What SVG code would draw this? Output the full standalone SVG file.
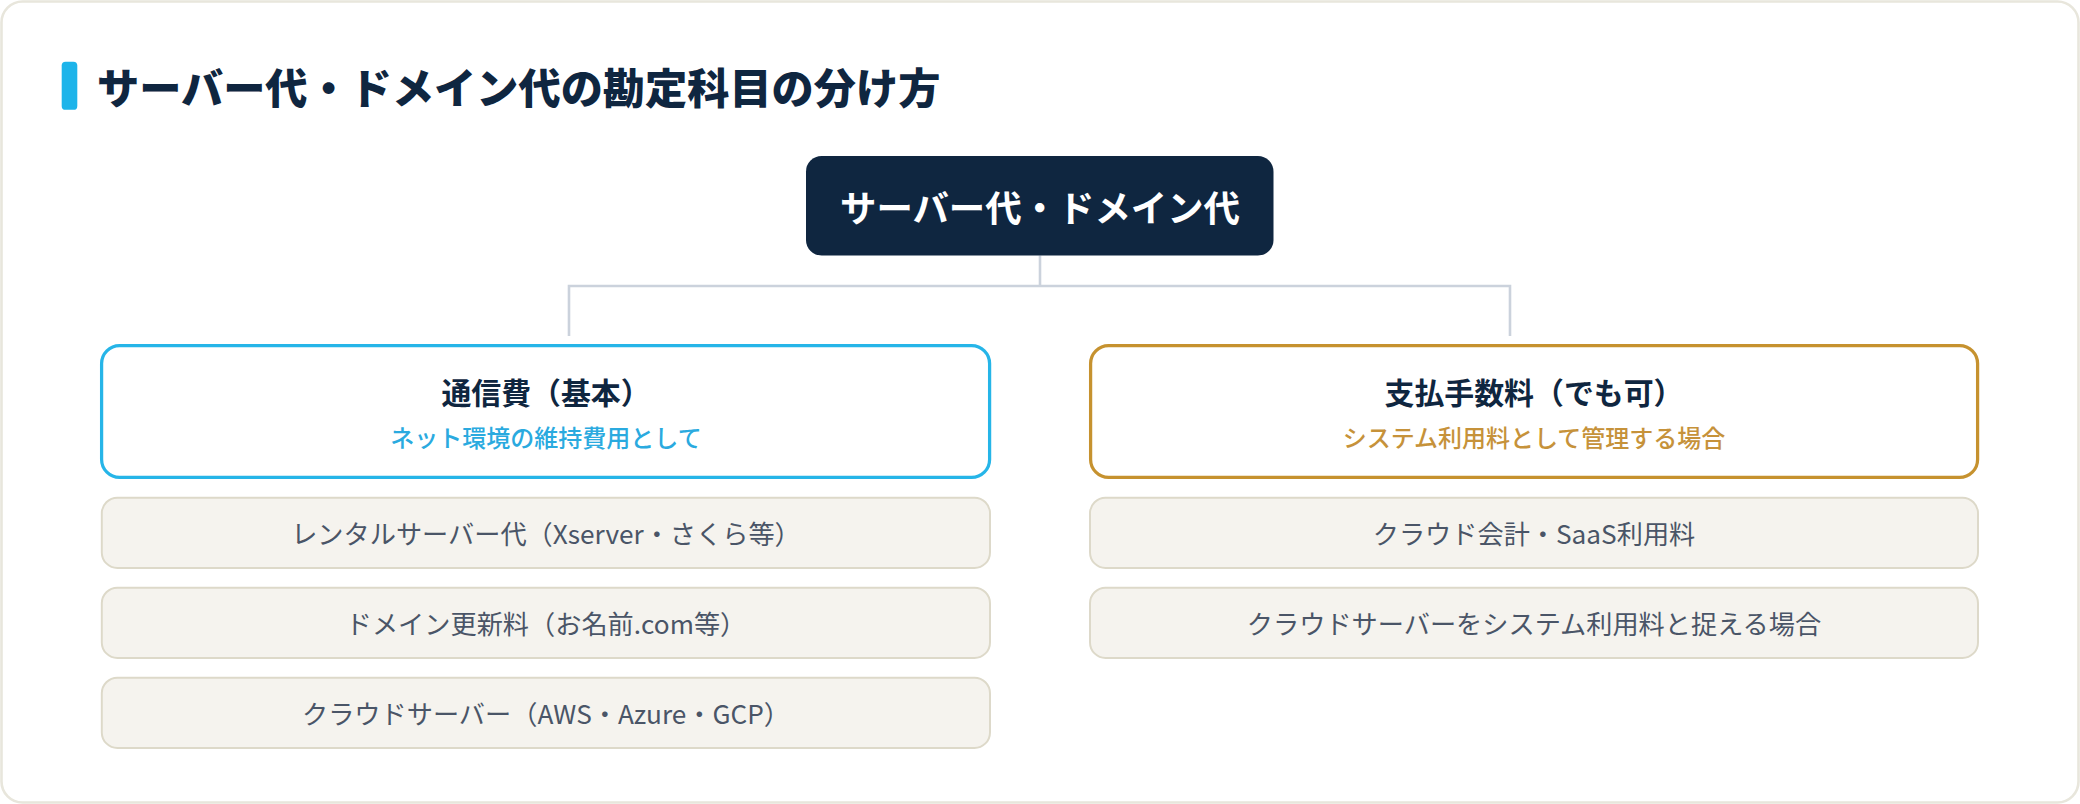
<svg xmlns="http://www.w3.org/2000/svg" width="2080" height="804" viewBox="0 0 2080 804">
  <style>
    text { font-family: "Noto Sans CJK JP", "Noto Sans", sans-serif; }
    .title { font-size: 42.2px; font-weight: 900; fill: #0F2640; }
    .root-text { font-size: 36.4px; font-weight: 700; fill: #FFFFFF; text-anchor: middle; }
    .cat-title { font-size: 29.9px; font-weight: 700; fill: #0F2640; text-anchor: middle; }
    .sub { font-size: 24px; font-weight: 500; text-anchor: middle; }
    .item-box { fill: #F5F3EE; stroke: #DDD9C9; stroke-width: 1.95; }
    .item-text { font-size: 26.2px; font-weight: 400; fill: #4A5567; text-anchor: middle; }
    .conn { fill: none; stroke: #CBD2DC; stroke-width: 2.6; }
  </style>

  <rect x="0" y="0" width="2080" height="804" fill="#FFFFFF"/>
  <rect id="card" x="1.5" y="1.5" width="2077" height="801" rx="21" fill="#FFFFFF" stroke="#E8E6DC" stroke-width="2.6"/>

  <g id="heading">
    <rect x="61.7" y="61.7" width="15.6" height="48.1" rx="3.9" fill="#1DB4EA"/>
    <text class="title" x="97" y="104.3">サーバー代・ドメイン代の勘定科目の分け方</text>
  </g>

  <g id="connectors">
    <path class="conn" d="M1040 255.5 V286"/>
    <path class="conn" d="M569 336 V286 H1510 V336"/>
  </g>

  <g id="root">
    <rect x="806" y="156" width="467.5" height="99.5" rx="15.6" fill="#0F2640"/>
    <text class="root-text" x="1040" y="221.8">サーバー代・ドメイン代</text>
  </g>

  <g id="cat-tsushinhi">
    <rect x="101.6" y="345.6" width="888" height="131.8" rx="18" fill="#FFFFFF" stroke="#26B5E8" stroke-width="3.25"/>
    <text class="cat-title" x="546" y="404.1">通信費（基本）</text>
    <text class="sub" x="546" y="446.6" fill="#2AAADF">ネット環境の維持費用として</text>
  </g>

  <g id="cat-shiharai">
    <rect x="1090.6" y="345.6" width="887" height="131.8" rx="18" fill="#FFFFFF" stroke="#C6922F" stroke-width="3.25"/>
    <text class="cat-title" x="1534" y="404.1">支払手数料（でも可）</text>
    <text class="sub" x="1534" y="446.6" fill="#C6923A">システム利用料として管理する場合</text>
  </g>

  <g id="item-rental">
    <rect class="item-box" x="101.8" y="497.7" width="888.2" height="70.3" rx="15.6"/>
    <text class="item-text" x="546" y="543.9">レンタルサーバー代（Xserver・さくら等）</text>
  </g>
  <g id="item-domain">
    <rect class="item-box" x="101.8" y="587.7" width="888.2" height="70.3" rx="15.6"/>
    <text class="item-text" x="546" y="633.9">ドメイン更新料（お名前.com等）</text>
  </g>
  <g id="item-cloud">
    <rect class="item-box" x="101.8" y="677.7" width="888.2" height="70.3" rx="15.6"/>
    <text class="item-text" x="546" y="723.9">クラウドサーバー（AWS・Azure・GCP）</text>
  </g>

  <g id="item-saas">
    <rect class="item-box" x="1090" y="497.7" width="888" height="70.3" rx="15.6"/>
    <text class="item-text" x="1534" y="543.9">クラウド会計・SaaS利用料</text>
  </g>
  <g id="item-cloud-system">
    <rect class="item-box" x="1090" y="587.7" width="888" height="70.3" rx="15.6"/>
    <text class="item-text" x="1534" y="633.9">クラウドサーバーをシステム利用料と捉える場合</text>
  </g>
</svg>
